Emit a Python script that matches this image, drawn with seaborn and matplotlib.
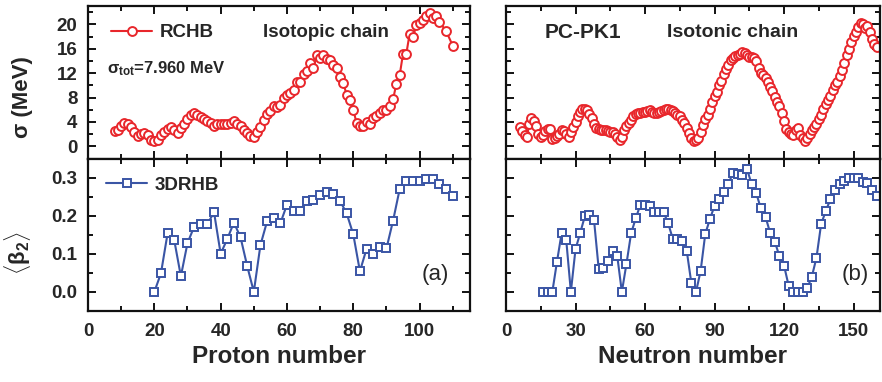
import matplotlib.pyplot as plt
import seaborn as sns
from matplotlib.ticker import MultipleLocator, FormatStrFormatter

red = '#e8262b'
blue = '#3a55a5'

# sigma of isotopic chains (RCHB) vs proton number
z_sigma = list(range(8, 107)) + [108, 110]
sigma_z = [2.5, 2.7, 3.4, 3.9, 3.6, 3.1, 2.4, 1.7, 2.0, 2.2,
           1.8, 1.0, 0.8, 1.1, 1.8, 2.3, 2.9, 3.2, 2.7, 2.2,
           3.0, 3.7, 4.5, 5.1, 5.5, 5.1, 4.8, 4.5, 4.2, 3.8,
           3.3, 3.6, 3.7, 3.6, 3.7, 3.9, 4.1, 3.7, 3.3, 2.7,
           2.2, 1.7, 1.5, 2.4, 3.2, 4.3, 5.3, 5.8, 6.6, 6.5,
           6.8, 8.0, 8.4, 8.8, 9.3, 10.6, 10.6, 11.9, 12.4, 13.6,
           12.9, 14.9, 14.5, 15.0, 14.4, 14.1, 13.3, 12.8, 11.4, 10.4,
           8.4, 7.6, 6.0, 3.8, 3.3, 3.4, 4.0, 3.6, 4.7, 4.9,
           5.5, 5.9, 5.9, 6.6, 7.7, 10.3, 11.7, 15.2, 15.2, 18.5,
           17.9, 19.9, 20.2, 20.8, 21.3, 21.9, 21.0, 21.4, 20.4,
           18.9, 16.5]

# sigma of isotonic chains (PC-PK1) vs neutron number
n_sigma = list(range(6, 161))
sigma_n = [3.2, 2.5, 1.8, 1.5, 3.6, 4.7, 4.2, 3.3, 2.1, 1.5,
           1.9, 2.5, 2.9, 2.8, 1.2, 1.3, 1.7, 2.0, 2.6, 2.5,
           2.1, 1.6, 2.4, 3.2, 4.0, 4.9, 5.7, 6.1, 6.2, 5.9,
           5.3, 4.6, 3.6, 3.0, 2.8, 2.7, 2.65, 2.6, 2.5, 2.4,
           2.3, 2.1, 1.5, 1.1, 1.6, 2.6, 3.3, 3.8, 4.4, 4.9,
           5.3, 5.5, 5.5, 5.6, 5.7, 5.8, 6.0, 5.7, 5.4, 5.4,
           5.6, 5.8, 6.0, 6.2, 6.2, 6.0, 5.8, 5.5, 5.2, 4.9,
           4.4, 3.8, 3.0, 2.2, 1.4, 0.9, 1.0, 1.4, 2.3, 3.5,
           4.5, 5.2, 6.2, 7.3, 8.2, 8.9, 10.1, 10.7, 11.9, 12.7,
           13.3, 14.2, 14.5, 14.8, 15.0, 15.2, 15.4, 15.3, 15.0, 14.6,
           14.7, 14.5, 14.0, 12.8, 12.0, 11.7, 11.2, 10.6, 9.8, 9.1,
           8.1, 7.3, 6.6, 5.4, 4.2, 2.9, 2.3, 2.0, 1.8, 2.6,
           3.0, 1.8, 1.4, 0.9, 1.4, 2.0, 2.7, 3.2, 3.7, 4.5,
           5.2, 6.1, 6.9, 7.6, 8.3, 9.3, 10.0, 10.6, 11.5, 12.5,
           13.6, 14.9, 16.0, 17.1, 18.1, 18.8, 19.6, 20.3, 20.1, 19.4,
           19.7, 18.8, 17.6, 16.8, 16.3]

# beta2 (3DRHB) vs proton number
z_beta = list(range(20, 111, 2))
beta_z = [0.0, 0.049, 0.154, 0.136, 0.041,
          0.128, 0.171, 0.179, 0.178, 0.209,
          0.100, 0.139, 0.182, 0.143, 0.068,
          0.0, 0.123, 0.185, 0.194, 0.180,
          0.229, 0.213, 0.212, 0.239, 0.240,
          0.254, 0.261, 0.256, 0.239, 0.206,
          0.151, 0.054, 0.113, 0.099, 0.119,
          0.114, 0.187, 0.270, 0.290, 0.292,
          0.292, 0.297, 0.296, 0.283, 0.269,
          0.252]

# beta2 (3DRHB) vs neutron number
n_beta = list(range(16, 161, 2))
beta_n = [0.0, 0.0, 0.0, 0.079, 0.154, 0.136, 0.0,
          0.112, 0.154, 0.198, 0.202, 0.188,
          0.061, 0.064, 0.080, 0.108, 0.095,
          0.0, 0.074, 0.154, 0.193, 0.229,
          0.229, 0.226, 0.209, 0.209, 0.209,
          0.180, 0.139, 0.139, 0.134, 0.108,
          0.023, 0.0, 0.055, 0.152, 0.191,
          0.226, 0.245, 0.262, 0.284, 0.313,
          0.309, 0.308, 0.323, 0.283, 0.259,
          0.219, 0.197, 0.155, 0.132, 0.094,
          0.069, 0.016, 0.0, 0.0, 0.0,
          0.010, 0.040, 0.090, 0.178, 0.212,
          0.243, 0.268, 0.284, 0.292, 0.299,
          0.300, 0.298, 0.289, 0.286, 0.268,
          0.252]

sns.set_style('ticks')
plt.rcParams['font.family'] = ['Liberation Sans', 'DejaVu Sans']
plt.rcParams['font.weight'] = 'bold'
plt.rcParams['mathtext.fontset'] = 'custom'
plt.rcParams['mathtext.rm'] = 'Liberation Sans:bold'
plt.rcParams['mathtext.it'] = 'Liberation Sans:bold'
plt.rcParams['mathtext.bf'] = 'Liberation Sans:bold'

fig, axes = plt.subplots(
    2, 2, figsize=(8.82, 3.82), dpi=100, sharex='col', sharey='row',
    gridspec_kw=dict(width_ratios=[382, 374], hspace=0, wspace=0.0952,
                     left=0.0998, right=0.9977, top=0.984, bottom=0.186))

circ = dict(marker='o', markersize=6.4, markerfacecolor='white',
            markeredgecolor=red, markeredgewidth=1.4, linewidth=1.5, color=red)
sq = dict(marker='s', markersize=5.6, markerfacecolor='white',
          markeredgecolor=blue, markeredgewidth=1.4, linewidth=1.5, color=blue)

sns.lineplot(x=z_sigma, y=sigma_z, ax=axes[0, 0], label='RCHB', **circ)
sns.lineplot(x=n_sigma, y=sigma_n, ax=axes[0, 1], **circ)
sns.lineplot(x=z_beta, y=beta_z, ax=axes[1, 0], label='3DRHB', **sq)
sns.lineplot(x=n_beta, y=beta_n, ax=axes[1, 1], **sq)

leg_prop = {'weight': 'bold', 'size': 13.5}
axes[0, 0].legend(loc='center left', bbox_to_anchor=(0.06, 0.825),
                  frameon=False, prop=leg_prop, borderpad=0, borderaxespad=0,
                  handlelength=2.2, handletextpad=0.38)
axes[1, 0].legend(loc='center left', bbox_to_anchor=(0.047, 0.824),
                  frameon=False, prop=leg_prop, borderpad=0, borderaxespad=0,
                  handlelength=2.2, handletextpad=0.38)
if axes[0, 1].get_legend():
    axes[0, 1].get_legend().remove()

axes[0, 0].text(0.458, 0.83, 'Isotopic chain', transform=axes[0, 0].transAxes,
                fontsize=13.5, fontweight='bold', va='center')
axes[0, 0].text(0.05, 0.59, r'$\sigma_{\rm tot}$=7.960 MeV',
                transform=axes[0, 0].transAxes, fontsize=12,
                fontweight='bold', va='center')
axes[0, 1].text(0.104, 0.83, 'PC-PK1', transform=axes[0, 1].transAxes,
                fontsize=15, fontweight='bold', va='center')
axes[0, 1].text(0.43, 0.83, 'Isotonic chain', transform=axes[0, 1].transAxes,
                fontsize=14, fontweight='bold', va='center')
axes[1, 0].text(0.91, 0.24, '(a)', transform=axes[1, 0].transAxes,
                fontsize=16, fontweight='normal', ha='center', va='center')
axes[1, 1].text(0.935, 0.24, '(b)', transform=axes[1, 1].transAxes,
                fontsize=16, fontweight='normal', ha='center', va='center')

axes[0, 0].set_ylim(-2, 23)
axes[1, 0].set_ylim(-0.05, 0.35)
axes[0, 0].set_xlim(0, 115.2)
axes[0, 1].set_xlim(0, 161.4)

for ax in axes[0]:
    ax.yaxis.set_major_locator(MultipleLocator(4))
    ax.yaxis.set_minor_locator(MultipleLocator(2))
for ax in axes[1]:
    ax.yaxis.set_major_locator(MultipleLocator(0.1))
    ax.yaxis.set_minor_locator(MultipleLocator(0.05))
    ax.yaxis.set_major_formatter(FormatStrFormatter('%.1f'))
for ax in axes[:, 0]:
    ax.xaxis.set_major_locator(MultipleLocator(20))
    ax.xaxis.set_minor_locator(MultipleLocator(10))
for ax in axes[:, 1]:
    ax.xaxis.set_major_locator(MultipleLocator(30))
    ax.xaxis.set_minor_locator(MultipleLocator(15))

for ax in axes.flat:
    for s in ax.spines.values():
        s.set_linewidth(1.6)
        s.set_color('#111111')
    ax.tick_params(which='both', direction='in', top=True, right=True,
                   width=1.4, color='#111111')
    ax.tick_params(which='major', length=6, labelsize=13.5)
    ax.tick_params(axis='y', which='major', pad=7.5)
    ax.tick_params(axis='x', which='major', pad=9)
    ax.tick_params(which='minor', length=3.5)
    ax.set_xlabel('')
    ax.set_ylabel('')

axes[0, 0].set_ylabel('σ (MeV)', fontsize=16, fontweight='bold')
axes[1, 0].set_ylabel(r'$\langle\beta_2\rangle$', fontsize=16, fontweight='bold')
axes[0, 0].yaxis.set_label_coords(-0.144, 0.401)
axes[1, 0].yaxis.set_label_coords(-0.144, 0.379)
axes[1, 0].set_xlabel('Proton number', fontsize=17.5, fontweight='bold', labelpad=3)
axes[1, 1].set_xlabel('Neutron number', fontsize=17.5, fontweight='bold', labelpad=3)

fig.savefig('out.png', dpi=100)
